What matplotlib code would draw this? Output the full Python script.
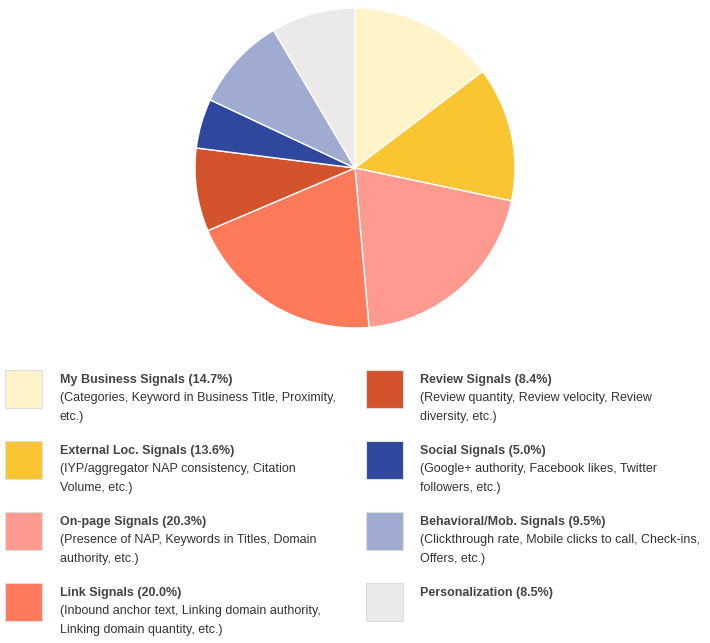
import matplotlib
matplotlib.use("Agg")
import matplotlib.pyplot as plt
from matplotlib.patches import Rectangle

labels = ["My Business Signals", "External Loc. Signals", "On-page Signals", "Link Signals",
          "Review Signals", "Social Signals", "Behavioral/Mob. Signals", "Personalization"]
values = [14.7, 13.6, 20.3, 20.0, 8.4, 5.0, 9.5, 8.5]
descs = ["(Categories, Keyword in Business Title, Proximity,\netc.)",
         "(IYP/aggregator NAP consistency, Citation\nVolume, etc.)",
         "(Presence of NAP, Keywords in Titles, Domain\nauthority, etc.)",
         "(Inbound anchor text, Linking domain authority,\nLinking domain quantity, etc.)",
         "(Review quantity, Review velocity, Review\ndiversity, etc.)",
         "(Google+ authority, Facebook likes, Twitter\nfollowers, etc.)",
         "(Clickthrough rate, Mobile clicks to call, Check-ins,\nOffers, etc.)",
         ""]
colors = ["#FFF4C9", "#FAC533", "#FF9A90", "#FF7A5A", "#D3532C", "#2F489D", "#A0ABD1", "#EBE9EA"]

W, H = 710, 643
fig = plt.figure(figsize=(W/100, H/100), dpi=100)
cx, cy, r = 355, 168, 160
ax = fig.add_axes([(cx-r)/W, 1-(cy+r)/H, 2*r/W, 2*r/H])
ax.pie(values, colors=colors, startangle=90, counterclock=False,
       wedgeprops=dict(edgecolor="white", linewidth=1))
ax.set_xlim(-1, 1); ax.set_ylim(-1, 1)
ax.set_aspect("equal")

lax = fig.add_axes([0, 0, 1, 1])
lax.set_xlim(0, W); lax.set_ylim(H, 0); lax.axis("off")
rows = [370, 441, 512, 583]
for i, (lab, v, d, c) in enumerate(zip(labels, values, descs, colors)):
    col, row = divmod(i, 4)
    sx = 5 if col == 0 else 366
    tx = 60 if col == 0 else 420
    y = rows[row]
    lax.add_patch(Rectangle((sx, y), 37, 38, facecolor=c, edgecolor="#dddddd", linewidth=0.8))
    lax.text(tx, y + 10, f"{lab} ({v:.1f}%)", fontsize=9, fontweight="bold",
             color="#444444", va="center", family="Liberation Sans")
    if d:
        lax.text(tx, y + 22, d, fontsize=9, color="#333333", va="top",
                 linespacing=1.75, family="Liberation Sans")

fig.savefig("out.png", dpi=100)
